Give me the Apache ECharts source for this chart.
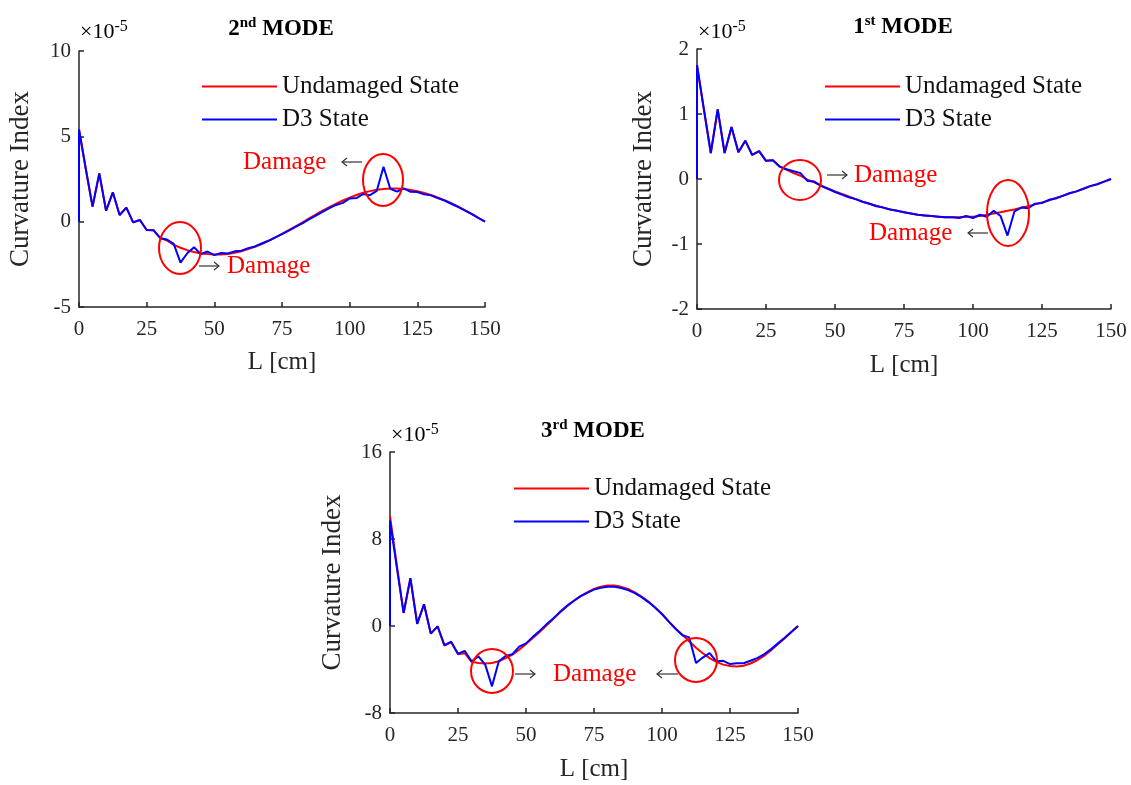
<!DOCTYPE html>
<html>
<head>
<meta charset="utf-8">
<script src="https://cdn.jsdelivr.net/npm/echarts@6/dist/echarts.min.js"></script>
<style>
  html, body { margin: 0; padding: 0; background: #fff; }
  #chart { width: 1131px; height: 785px; }
</style>
</head>
<body>
<div id="chart"></div>
<script>
// positions along the beam [cm]; the first point is the (0,0) start
var xs = [0, 0, 2.5, 5, 7.5, 10, 12.5, 15, 17.5, 20, 22.5,
  25, 27.5, 30, 32.5, 35, 37.5, 40, 42.5, 45, 47.5,
  50, 52.5, 55, 57.5, 60, 62.5, 65, 67.5, 70, 72.5,
  75, 77.5, 80, 82.5, 85, 87.5, 90, 92.5, 95, 97.5,
  100, 102.5, 105, 107.5, 110, 112.5, 115, 117.5, 120, 122.5,
  125, 127.5, 130, 132.5, 135, 137.5, 140, 142.5, 145, 147.5, 150];

// curvature index values, x 1e-5
// 2nd mode
var undamaged2 = [0, 5.4, 3.1, 0.88, 2.83, 0.64, 1.72, 0.39, 0.82, -0.04, 0.1,
  -0.49, -0.5, -0.95, -1.1, -1.36, -1.53, -1.67, -1.78, -1.86, -1.9,
  -1.93, -1.92, -1.89, -1.82, -1.73, -1.61, -1.47, -1.31, -1.13, -0.93,
  -0.72, -0.5, -0.28, -0.05, 0.19, 0.42, 0.64, 0.85, 1.05, 1.24,
  1.41, 1.56, 1.69, 1.79, 1.87, 1.92, 1.95, 1.95, 1.92, 1.86,
  1.78, 1.68, 1.56, 1.42, 1.26, 1.08, 0.89, 0.68, 0.46, 0.23, 0];
var d3state2 = [0, 5.4, 3.1, 0.88, 2.83, 0.64, 1.72, 0.39, 0.82, -0.04, 0.1,
  -0.49, -0.5, -0.97, -1.05, -1.3, -2.4, -1.85, -1.5, -1.9, -1.75,
  -1.96, -1.84, -1.86, -1.74, -1.7, -1.55, -1.45, -1.28, -1.12, -0.92,
  -0.73, -0.52, -0.3, -0.1, 0.14, 0.36, 0.58, 0.8, 0.98, 1.1,
  1.36, 1.38, 1.62, 1.55, 1.8, 3.22, 1.93, 1.76, 1.95, 1.75,
  1.74, 1.6, 1.54, 1.38, 1.24, 1.05, 0.87, 0.66, 0.45, 0.22, 0];

// 1st mode
var undamaged1 = [0, 1.75, 1.07, 0.4, 1.07, 0.4, 0.8, 0.41, 0.59, 0.37, 0.43,
  0.28, 0.29, 0.19, 0.14, 0.09, 0.05, -0.01, -0.05, -0.1, -0.15,
  -0.19, -0.23, -0.27, -0.31, -0.35, -0.38, -0.41, -0.44, -0.47, -0.49,
  -0.51, -0.53, -0.55, -0.56, -0.57, -0.58, -0.59, -0.59, -0.59, -0.58,
  -0.58, -0.57, -0.55, -0.53, -0.51, -0.49, -0.47, -0.44, -0.42, -0.39,
  -0.36, -0.33, -0.29, -0.26, -0.22, -0.19, -0.15, -0.11, -0.08, -0.04, 0];
var d3state1 = [0, 1.75, 1.07, 0.4, 1.07, 0.4, 0.8, 0.41, 0.59, 0.37, 0.43,
  0.28, 0.29, 0.19, 0.15, 0.12, 0.09, -0.03, -0.04, -0.11, -0.15,
  -0.2, -0.24, -0.28, -0.31, -0.35, -0.38, -0.42, -0.44, -0.47, -0.49,
  -0.51, -0.53, -0.55, -0.56, -0.57, -0.58, -0.59, -0.59, -0.6, -0.57,
  -0.6, -0.55, -0.58, -0.49, -0.57, -0.87, -0.5, -0.44, -0.45, -0.38,
  -0.37, -0.32, -0.3, -0.26, -0.22, -0.19, -0.15, -0.11, -0.08, -0.04, 0];

// 3rd mode
var undamaged3 = [0, 10.1, 5.6, 1.2, 4.4, 0.2, 2.0, -0.7, -0.03, -1.8, -1.5,
  -2.6, -2.5, -3.3, -3.4, -3.45, -3.4, -3.25, -2.95, -2.64, -2.18,
  -1.65, -1.1, -0.55, 0.05, 0.65, 1.25, 1.8, 2.3, 2.75, 3.1,
  3.4, 3.62, 3.72, 3.72, 3.6, 3.4, 3.1, 2.7, 2.25, 1.7,
  1.1, 0.4, -0.25, -0.8, -1.4, -2.0, -2.5, -2.95, -3.3, -3.55,
  -3.68, -3.72, -3.65, -3.45, -3.15, -2.75, -2.25, -1.7, -1.15, -0.57, 0];
var d3state3 = [0, 9.7, 5.4, 1.2, 4.4, 0.2, 2.0, -0.7, -0.03, -1.75, -1.45,
  -2.55, -2.3, -3.25, -2.8, -3.55, -5.55, -3.25, -2.75, -2.6, -1.9,
  -1.6, -1.0, -0.45, 0.15, 0.7, 1.3, 1.85, 2.3, 2.72, 3.05,
  3.35, 3.52, 3.6, 3.6, 3.5, 3.3, 3.02, 2.65, 2.2, 1.68,
  1.1, 0.4, -0.25, -0.85, -1.05, -3.4, -2.9, -2.5, -3.25, -3.2,
  -3.5, -3.42, -3.42, -3.2, -2.95, -2.6, -2.15, -1.62, -1.1, -0.55, 0];

var chart = echarts.init(document.getElementById('chart'));

var FONT = '"Liberation Serif", "DejaVu Serif", serif';
var AXIS_COLOR = '#262626';

function pairs(arr) {
  return xs.map(function (x, i) { return [x, arr[i]]; });
}

// one panel = grid + axes + legend + two lines
var panels = [
  { grid: { left: 79, top: 51, width: 406, height: 256 }, yMin: -5, yMax: 10, yStep: 5, yGap: 45, xGap: 43,
    legend: { left: 197, top: 69 }, u: undamaged2, d: d3state2 },
  { grid: { left: 697, top: 49, width: 414, height: 260 }, yMin: -2, yMax: 2, yStep: 1, yGap: 40, xGap: 44,
    legend: { left: 820, top: 69 }, u: undamaged1, d: d3state1 },
  { grid: { left: 390, top: 452, width: 408, height: 261 }, yMin: -8, yMax: 16, yStep: 8, yGap: 44, xGap: 44,
    legend: { left: 509, top: 471 }, u: undamaged3, d: d3state3 }
];

var option = {
  backgroundColor: '#fff',
  animation: false,
  grid: [], xAxis: [], yAxis: [], legend: [], series: [],
  graphic: []
};

panels.forEach(function (p, k) {
  option.grid.push(p.grid);
  option.xAxis.push({
    type: 'value', gridIndex: k, min: 0, max: 150, interval: 25,
    name: 'L [cm]', nameLocation: 'middle', nameGap: p.xGap,
    nameTextStyle: { fontFamily: FONT, fontSize: 25, color: AXIS_COLOR },
    axisLine: { onZero: false, lineStyle: { color: AXIS_COLOR, width: 1.5 } },
    axisTick: { inside: true, length: 5, lineStyle: { color: AXIS_COLOR, width: 1.5 } },
    axisLabel: { fontFamily: FONT, fontSize: 21, color: AXIS_COLOR, margin: 12 },
    splitLine: { show: false }
  });
  option.yAxis.push({
    type: 'value', gridIndex: k, min: p.yMin, max: p.yMax, interval: p.yStep,
    name: 'Curvature Index', nameLocation: 'middle', nameGap: p.yGap,
    nameTextStyle: { fontFamily: FONT, fontSize: 27, color: AXIS_COLOR },
    axisLine: { show: true, onZero: false, lineStyle: { color: AXIS_COLOR, width: 1.5 } },
    axisTick: { show: true, inside: true, length: 5, lineStyle: { color: AXIS_COLOR, width: 1.5 } },
    axisLabel: { fontFamily: FONT, fontSize: 21, color: AXIS_COLOR, margin: 8 },
    splitLine: { show: false }
  });
  option.legend.push({
    orient: 'vertical', left: p.legend.left, top: p.legend.top,
    icon: 'rect', itemWidth: 75, itemHeight: 2, itemGap: 8,
    textStyle: { fontFamily: FONT, fontSize: 25, color: '#111' },
    data: ['Undamaged State', 'D3 State']
  });
  option.series.push({
    name: 'Undamaged State', type: 'line', xAxisIndex: k, yAxisIndex: k,
    symbol: 'none', lineStyle: { color: '#ff0000', width: 2 }, itemStyle: { color: '#ff0000' },
    data: pairs(p.u)
  });
  option.series.push({
    name: 'D3 State', type: 'line', xAxisIndex: k, yAxisIndex: k,
    symbol: 'none', lineStyle: { color: '#0000ff', width: 2 }, itemStyle: { color: '#0000ff' },
    data: pairs(p.d)
  });
});

// titles and x10^-5 exponents
var supRich = {
  b: { fontFamily: FONT, fontSize: 23, fontWeight: 'bold', color: '#000' },
  s: { fontFamily: FONT, fontSize: 15, fontWeight: 'bold', color: '#000', padding: [0, 0, 11, 0] },
  n: { fontFamily: FONT, fontSize: 22, color: AXIS_COLOR },
  e: { fontFamily: FONT, fontSize: 16, color: AXIS_COLOR, padding: [0, 0, 11, 0] }
};
function title(x, y, num, sup) {
  return { type: 'text', x: x, y: y,
    style: { text: '{b|' + num + '}{s|' + sup + '}{b| MODE}', rich: supRich,
      align: 'center', verticalAlign: 'middle' } };
}
function expo(x, y) {
  return { type: 'text', x: x, y: y,
    style: { text: '{n|\u00d710}{e|-5}', rich: supRich, align: 'left', verticalAlign: 'middle' } };
}
option.graphic.push(title(281, 29, '2', 'nd'), title(903, 27, '1', 'st'), title(593, 431, '3', 'rd'));
option.graphic.push(expo(80, 32), expo(698, 32), expo(391, 435));

// damage markers
function ring(cx, cy, rx, ry) {
  return { type: 'ellipse', shape: { cx: cx, cy: cy, rx: rx, ry: ry },
    style: { fill: 'none', stroke: '#ff0000', lineWidth: 2 }, z: 10 };
}
function word(x, y, txt) {
  return { type: 'text', x: x, y: y, z: 10,
    style: { text: txt, fontFamily: FONT, fontSize: 25, fill: '#ff0000', verticalAlign: 'middle' } };
}
// thin open arrow from x1 to x2 at height y
function arrow(x1, x2, y) {
  var dir = x2 > x1 ? 1 : -1;
  return { type: 'group', z: 10, children: [
    { type: 'line', shape: { x1: x1, y1: y, x2: x2, y2: y },
      style: { stroke: '#333', lineWidth: 1.2 } },
    { type: 'polyline', shape: { points: [[x2 - dir * 5, y - 4], [x2, y], [x2 - dir * 5, y + 4]] },
      style: { stroke: '#333', lineWidth: 1.2, fill: 'none' } }
  ] };
}
option.graphic.push(
  ring(180, 248, 21, 26), ring(383, 180, 20, 26),
  arrow(199, 219, 266), word(227, 266, 'Damage'),
  word(243, 162, 'Damage'), arrow(362, 342, 162),
  ring(800, 180, 21, 20), ring(1008, 213, 21, 33),
  arrow(827, 847, 175), word(854, 175, 'Damage'),
  word(869, 233, 'Damage'), arrow(988, 968, 233),
  ring(492, 671, 21, 22), ring(696, 660, 21, 22),
  arrow(515, 535, 674), word(553, 674, 'Damage'),
  arrow(678, 657, 674)
);

chart.setOption(option);
</script>
</body>
</html>
